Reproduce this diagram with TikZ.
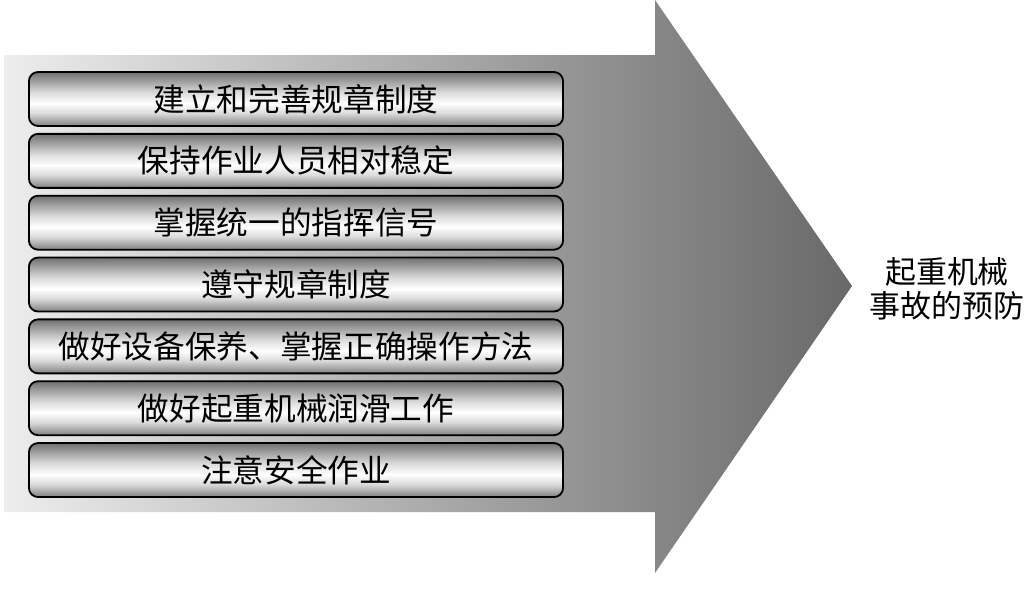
\documentclass[tikz,border=0pt]{standalone}
\usepackage{fontspec}
\newfontfamily\cjk{Noto Sans CJK SC}
\usetikzlibrary{positioning}

% bars: dark rims, bright band just below the middle
\pgfdeclareverticalshading{barshade}{100bp}{color(0bp)=(black!50); color(25bp)=(black!50);
  color(37bp)=(black!14); color(46bp)=(white); color(56bp)=(black!14); color(75bp)=(black!56);
  color(100bp)=(black!56)}

\begin{document}
\begin{tikzpicture}[x=0.025cm, y=-0.025cm, node distance=0.15cm]
\useasboundingbox (0,0) rectangle (1025,598);

    \tikzstyle{bar}=[draw=black, line width=1.3pt, rounded corners=6.5pt, shading=barshade,
                     minimum width=13.35cm, minimum height=1.35cm, inner sep=0pt,
                     font=\cjk\fontsize{22.5}{26}\selectfont];
    \tikzstyle{goal}=[align=center, font=\cjk\fontsize{22}{24}\selectfont];

% big arrow
 \shade[left color=black!7, middle color=black!23, right color=black!59]
   (4,55) -- (655,55) -- (655,0) -- (852,286) -- (655,573) -- (655,512) -- (4,512) -- cycle;

% measures
\node[bar] (rules)    at (296,99) {建立和完善规章制度};
\node[bar] (staff)    [below=of rules]    {保持作业人员相对稳定};
\node[bar] (signal)   [below=of staff]    {掌握统一的指挥信号};
\node[bar] (obey)     [below=of signal]   {遵守规章制度};
\node[bar] (upkeep)   [below=of obey]     {做好设备保养、掌握正确操作方法};
\node[bar] (lube)     [below=of upkeep]   {做好起重机械润滑工作};
\node[bar] (safety)   [below=of lube]     {注意安全作业};

% aim
\node[goal] (prevent) at (947,289) {起重机械\\事故的预防};
\end{tikzpicture}
\end{document}
